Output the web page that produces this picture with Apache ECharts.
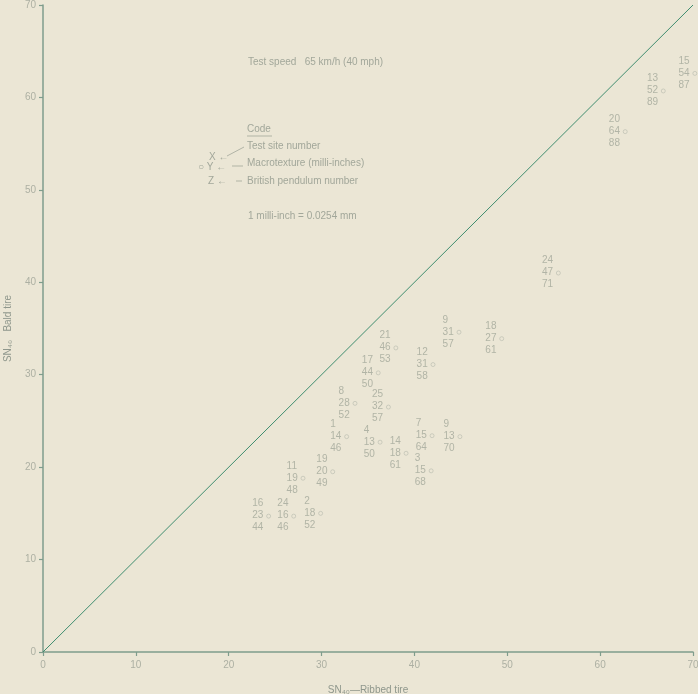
<!DOCTYPE html>
<html>
<head>
<meta charset="utf-8">
<script src="https://cdn.jsdelivr.net/npm/echarts@6/dist/echarts.min.js"></script>
<style>
  html, body { margin: 0; padding: 0; background: #ebe6d5; }
  #chart { width: 698px; height: 694px; }
</style>
</head>
<body>
<div id="chart"></div>
<script>
// SN40 skid numbers: ribbed tire (x) vs bald tire (y), one entry per test site
const ribbedSN = [70.2, 66.8, 62.7, 55.5, 49.4, 44.8, 42.0, 38.0, 36.1, 33.6, 37.2, 32.7, 36.3, 39.1, 41.9, 44.9, 41.8, 31.2, 28.0, 29.9, 24.3, 27.0];
const baldSN   = [62.6, 60.7, 56.3, 41.0, 33.9, 34.6, 31.1, 32.9, 30.2, 26.9, 26.5, 23.3, 22.7, 21.5, 23.4, 23.3, 19.6, 19.5, 18.8, 15.0, 14.7, 14.7];
// Code: X = test site number, Y = macrotexture (milli-inches), Z = British pendulum number
const siteNo      = ['15', '13', '20', '24', '18', '9', '12', '21', '17', '8', '25', '1', '4', '14', '7', '9', '3', '19', '11', '2', '16', '24'];
const macrotexture = ['54', '52', '64', '47', '27', '31', '31', '46', '44', '28', '32', '14', '13', '18', '15', '13', '15', '20', '19', '18', '23', '16'];
const pendulum    = ['87', '89', '88', '71', '61', '57', '58', '53', '50', '52', '57', '46', '50', '61', '64', '70', '68', '49', '48', '52', '44', '46'];
const axisTicks = [0, 10, 20, 30, 40, 50, 60, 70];

const ink = '#a2a79a';
const axisColor = '#7f9d8c';
const fontFamily = '"Liberation Sans", Arial, sans-serif';

const points = ribbedSN.map((x, i) => ({
  value: [x, baldSN[i]],
  site: siteNo[i], macro: macrotexture[i], bpn: pendulum[i]
}));

const chart = echarts.init(document.getElementById('chart'), null, { renderer: 'canvas' });

const axisCommon = {
  type: 'value', min: 0, max: 70, interval: 10,
  axisLine: { show: true, lineStyle: { color: axisColor, width: 1.5 } },
  axisTick: { show: true, length: 4, lineStyle: { color: axisColor, width: 1.2 } },
  splitLine: { show: false },
  axisLabel: { color: '#adb0a3', fontSize: 10, fontFamily: fontFamily,
    formatter: v => axisTicks.includes(v) ? String(v) : '' },
  nameTextStyle: { color: '#8f978c', fontSize: 10, fontFamily: fontFamily },
  nameLocation: 'middle'
};

const legendText = (x, y, text, extra) => ({
  type: 'text', left: x, top: y,
  style: Object.assign({ text: text, fill: ink, font: '10px ' + fontFamily }, extra || {})
});
const legendLine = (x1, y1, x2, y2) => ({
  type: 'line', shape: { x1, y1, x2, y2 },
  style: { stroke: ink, lineWidth: 0.8 }
});

chart.setOption({
  backgroundColor: '#ebe6d5',
  animation: false,
  grid: { left: 43, right: 5, top: 5, bottom: 42, containLabel: false, outerBoundsMode: 'none' },
  xAxis: Object.assign({}, axisCommon, {
    name: 'SN\u2084\u2080\u2014Ribbed tire', nameGap: 33,
    axisLabel: Object.assign({}, axisCommon.axisLabel, { margin: 8 })
  }),
  yAxis: Object.assign({}, axisCommon, {
    name: 'SN\u2084\u2080   Bald tire', nameGap: 30, nameRotate: 90,
    axisLabel: Object.assign({}, axisCommon.axisLabel, { margin: 7 })
  }),
  series: [
    {
      // equality line SN(bald) = SN(ribbed)
      type: 'line',
      data: [[0, 0], [70, 70]],
      symbol: 'none',
      lineStyle: { color: '#3f8d6f', width: 1 },
      silent: true, z: 3
    },
    {
      type: 'scatter',
      data: points,
      clip: false,
      symbol: 'circle',
      symbolSize: 4,
      itemStyle: { color: 'rgba(0,0,0,0)', borderColor: '#b8bbaf', borderWidth: 0.8 },
      label: {
        show: true,
        position: [-14, -16],
        align: 'left',
        verticalAlign: 'top',
        color: ink,
        fontSize: 10,
        lineHeight: 12,
        fontFamily: fontFamily,
        formatter: p => p.data.site + '\n' + p.data.macro + '\n' + p.data.bpn
      },
      z: 4
    }
  ],
  graphic: [
    legendText(248, 57, 'Test speed   65 km/h (40 mph)'),
    legendText(247, 124, 'Code'),
    legendLine(247, 136, 272, 136),
    legendText(247, 141, 'Test site number'),
    legendText(247, 158, 'Macrotexture (milli-inches)'),
    legendText(247, 176, 'British pendulum number'),
    legendText(209, 152, 'X \u2190'),
    legendLine(227, 156, 244, 147),
    legendText(198, 162, '\u25CB Y \u2190'),
    legendLine(232, 166, 243, 166),
    legendText(208, 176, 'Z \u2190'),
    legendLine(236, 181, 242, 181),
    legendText(248, 211, '1 milli-inch = 0.0254 mm')
  ]
});
</script>
</body>
</html>
